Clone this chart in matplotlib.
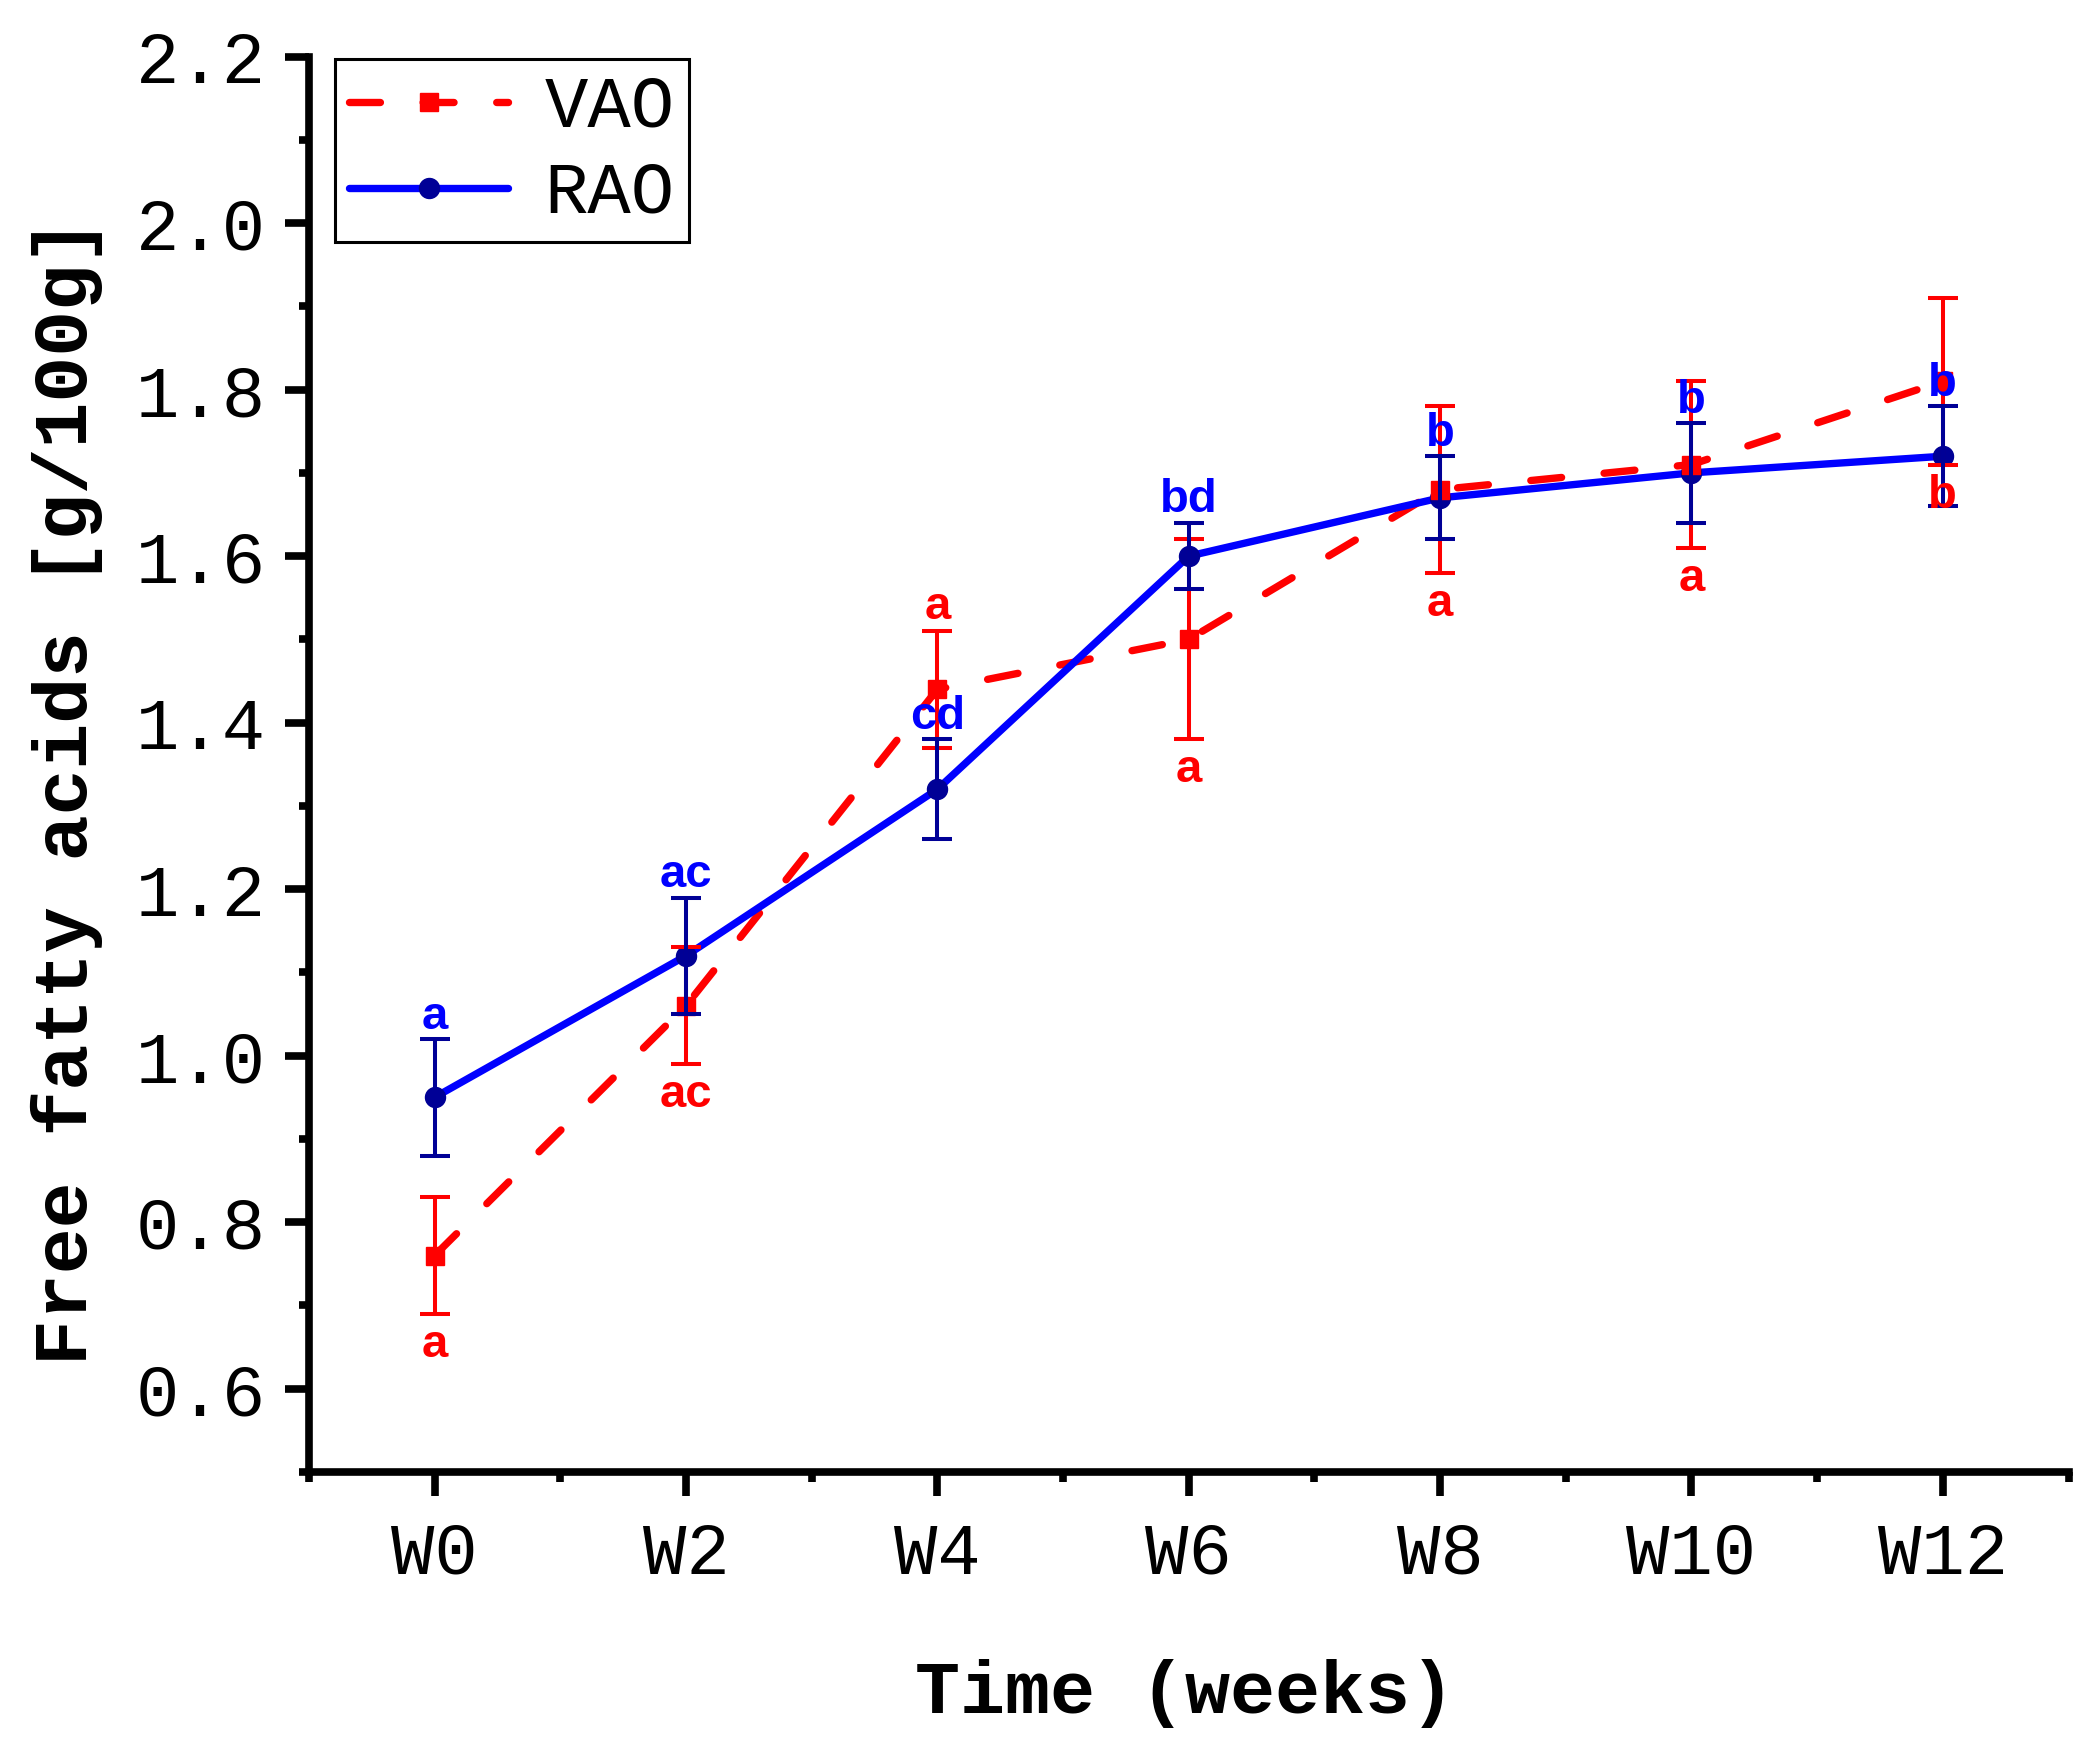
import matplotlib
matplotlib.use("Agg")
import matplotlib.pyplot as plt
from matplotlib.ticker import FixedLocator, MultipleLocator, FixedFormatter
from matplotlib.lines import Line2D

# ---------------- data ----------------
weeks = ["W0", "W2", "W4", "W6", "W8", "W10", "W12"]
vao_mean = [0.76, 1.06, 1.44, 1.50, 1.68, 1.71, 1.81]
vao_err = [0.07, 0.07, 0.07, 0.12, 0.10, 0.10, 0.10]
rao_mean = [0.95, 1.12, 1.32, 1.60, 1.67, 1.70, 1.72]
rao_err = [0.07, 0.07, 0.06, 0.04, 0.05, 0.06, 0.06]
vao_letters = ["a", "ac", "a", "a", "a", "a", "b"]
vao_letter_side = ["below", "below", "above", "below", "below", "below", "below"]
rao_letters = ["a", "ac", "cd", "bd", "b", "b", "b"]
y_ticks = [0.6, 0.8, 1.0, 1.2, 1.4, 1.6, 1.8, 2.0, 2.2]

MONO = "Liberation Mono"
SANS = "Liberation Sans"
RED = "#FF0000"
BLUE = "#0000FF"
NAVY = "#000096"

fig = plt.figure(figsize=(21, 17.57), dpi=100)
ax = fig.add_axes([0.1471, 0.1622, 0.985 - 0.1471, 0.9678 - 0.1622])

x = list(range(len(weeks)))

# VAO
ax.plot(x, vao_mean, color=RED, lw=5.3, linestyle=(0, (4.2, 5.8)),
        dash_capstyle="round", zorder=2)
ax.errorbar(x, vao_mean, yerr=vao_err, fmt="none", ecolor=RED, elinewidth=2.9,
            capsize=10.8, capthick=2.9, zorder=4)
ax.plot(x, vao_mean, linestyle="none", marker="s", ms=12.7, color=RED,
        mec=RED, zorder=4.5)

# RAO
ax.plot(x, rao_mean, color=BLUE, lw=5.3, solid_capstyle="round", zorder=3)
ax.plot(x, rao_mean, linestyle="none", marker="o", ms=14.4, color=NAVY,
        mec=NAVY, zorder=3.5)
ax.errorbar(x, rao_mean, yerr=rao_err, fmt="none", ecolor=NAVY, elinewidth=2.9,
            capsize=10.8, capthick=2.9, zorder=5)

# letters
for i in x:
    ax.annotate(rao_letters[i], (i, rao_mean[i] + rao_err[i]), xytext=(0, 7.5),
                textcoords="offset points", ha="center", va="baseline",
                color=BLUE, fontsize=34, fontweight="bold", family=SANS, zorder=6)
    if vao_letter_side[i] == "above":
        ax.annotate(vao_letters[i], (i, vao_mean[i] + vao_err[i]), xytext=(0, 8.5),
                    textcoords="offset points", ha="center", va="baseline",
                    color=RED, fontsize=34, fontweight="bold", family=SANS, zorder=6)
    else:
        ax.annotate(vao_letters[i], (i, vao_mean[i] - vao_err[i]), xytext=(0, -6.5),
                    textcoords="offset points", ha="center", va="top",
                    color=RED, fontsize=34, fontweight="bold", family=SANS, zorder=6)

# axes
ax.set_xlim(-0.5, 6.5)
ax.set_ylim(0.5, 2.2)
for s in ["top", "right"]:
    ax.spines[s].set_visible(False)
for s in ["left", "bottom"]:
    ax.spines[s].set_linewidth(5.5)

ax.xaxis.set_major_locator(FixedLocator(x))
ax.xaxis.set_major_formatter(FixedFormatter(weeks))
ax.xaxis.set_minor_locator(MultipleLocator(0.5))
ax.yaxis.set_major_locator(FixedLocator(y_ticks))
ax.yaxis.set_major_formatter(FixedFormatter([f"{v:.1f}" for v in y_ticks]))
ax.yaxis.set_minor_locator(MultipleLocator(0.1))

ax.tick_params(axis="both", which="both", direction="out", width=5.5)
ax.tick_params(axis="y", which="major", length=17, pad=14)
ax.tick_params(axis="y", which="minor", length=7)
ax.tick_params(axis="x", which="major", length=17, pad=18)
ax.tick_params(axis="x", which="minor", length=7)
for lab in ax.get_xticklabels() + ax.get_yticklabels():
    lab.set_fontfamily(MONO)
    lab.set_fontsize(52)

ax.set_xlabel("Time (weeks)", family=MONO, fontweight="bold", fontsize=54)
ax.set_ylabel("Free fatty acids [g/100g]", family=MONO, fontweight="bold", fontsize=55)
ax.xaxis.set_label_coords(0.4977, -0.132)
ax.yaxis.set_label_coords(-0.1173, 0.481)

# legend
h_vao = Line2D([], [], color=RED, lw=5.3, linestyle=(0, (4.2, 5.8)),
               dash_capstyle="round", marker="s", ms=12.7, mfc=RED, mec=RED)
h_rao = Line2D([], [], color=BLUE, lw=5.3, solid_capstyle="round",
               marker="o", ms=14.4, mfc=NAVY, mec=NAVY)
leg = ax.legend([h_vao, h_rao], ["VAO", "RAO"], loc="upper left",
                bbox_to_anchor=(0.0147, 0.998), borderaxespad=0,
                prop={"family": MONO, "size": 52}, handlelength=2.2,
                handletextpad=0.5, labelspacing=0.25, borderpad=0.2,
                numpoints=1, fancybox=False, framealpha=1)
leg.get_frame().set_edgecolor("black")
leg.get_frame().set_linewidth(2.2)

fig.savefig("out.png", dpi=100)
